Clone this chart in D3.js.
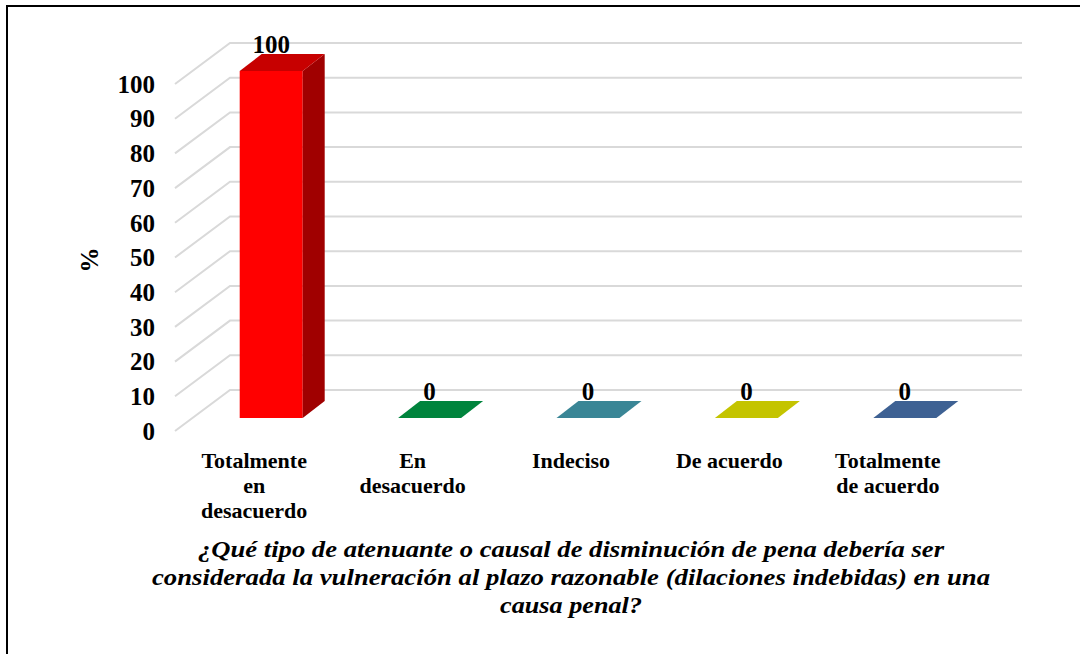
<!DOCTYPE html>
<html>
<head>
<meta charset="utf-8">
<script src="https://cdn.jsdelivr.net/npm/d3@7"></script>
<style>
  body { margin: 0; background: #fff; }
  svg { display: block; }
  text { font-family: "Liberation Serif", "Times New Roman", "DejaVu Serif", serif; font-weight: bold; fill: #000; }
  .tick-label { font-size: 25px; }
  .cat-label { font-size: 22px; }
  .value-label { font-size: 25px; }
  .title { font-style: italic; font-size: 24px; }
</style>
</head>
<body>
<svg id="chart" width="1080" height="654"></svg>
<script>
const categories = ['Totalmente en desacuerdo', 'En desacuerdo', 'Indeciso', 'De acuerdo', 'Totalmente de acuerdo'];
const categoryLines = [['Totalmente', 'en', 'desacuerdo'], ['En', 'desacuerdo'], ['Indeciso'], ['De acuerdo'], ['Totalmente', 'de acuerdo']];
const values = [100, 0, 0, 0, 0];
const barColors = ['#ff0000', '#00843d', '#3a8696', '#c4c400', '#3e6193'];
const yTicks = [0, 10, 20, 30, 40, 50, 60, 70, 80, 90, 100];
const titleLines = [
  '¿Qué tipo de atenuante o causal de disminución de pena debería ser',
  'considerada la vulneración al plazo razonable (dilaciones indebidas) en una',
  'causa penal?',
];
const titleWidths = [746, 838, 142];

const svg = d3.select('#chart');

// frame
svg.append('rect')
  .attr('x', 7).attr('y', 6)
  .attr('width', 1100).attr('height', 700)
  .attr('fill', 'none')
  .attr('stroke', '#000')
  .attr('stroke-width', 2);

// 3d geometry: wall depth and bar depth
const wall = { dx: 55, dy: 41, right: 1022 };
const bar = { shiftX: 17, shiftY: 13, dx: 22, dy: 17, width: 63 };

const x = d3.scaleBand()
  .domain(categories)
  .range([175, 967]);

const y = d3.scaleLinear()
  .domain([0, 100])
  .range([431, 84]);

// back wall gridlines + side diagonals
svg.append('g')
  .selectAll('path')
  .data(yTicks)
  .join('path')
    .attr('d', v => `M175,${y(v)}L${175 + wall.dx},${y(v) - wall.dy}L${wall.right},${y(v) - wall.dy}`)
    .attr('fill', 'none')
    .attr('stroke', '#d9d9d9')
    .attr('stroke-width', 2);

// y tick labels
svg.append('g')
  .selectAll('text')
  .data(yTicks)
  .join('text')
    .attr('class', 'tick-label')
    .attr('x', 155)
    .attr('y', v => y(v))
    .attr('dy', '0.35em')
    .attr('text-anchor', 'end')
    .text(v => v);

svg.append('text')
  .attr('class', 'tick-label')
  .attr('transform', 'translate(98,260) rotate(-90)')
  .attr('text-anchor', 'middle')
  .text('%');

// bars
const barG = svg.append('g')
  .selectAll('g')
  .data(categories.map((c, i) => ({ c, v: values[i], color: barColors[i] })))
  .join('g');

barG.each(function drawBar(d) {
  const g = d3.select(this);
  const x0 = x(d.c) + x.bandwidth() / 2 + bar.shiftX - bar.width / 2;
  const x1 = x0 + bar.width;
  const yb = y(0) - bar.shiftY;
  const yt = y(d.v) - bar.shiftY;
  const h = yb - yt;
  const base = d3.color(d.color);
  if (h > 0) {
    g.append('rect')
      .attr('x', x0).attr('y', yt)
      .attr('width', bar.width).attr('height', h)
      .attr('fill', d.color);
    g.append('path')
      .attr('d', `M${x1},${yt}L${x1 + bar.dx},${yt - bar.dy}L${x1 + bar.dx},${yb - bar.dy}L${x1},${yb}Z`)
      .attr('fill', base.darker(1.3));
    g.append('path')
      .attr('d', `M${x0},${yt}L${x0 + bar.dx},${yt - bar.dy}L${x1 + bar.dx},${yt - bar.dy}L${x1},${yt}Z`)
      .attr('fill', base.darker(0.7));
  } else {
    g.append('path')
      .attr('d', `M${x0},${yt}L${x0 + bar.dx},${yt - bar.dy}L${x1 + bar.dx},${yt - bar.dy}L${x1},${yt}Z`)
      .attr('fill', d.color);
  }
  g.append('text')
    .attr('class', 'value-label')
    .attr('x', (x0 + x1) / 2)
    .attr('y', yt - bar.dy - 1)
    .attr('text-anchor', 'middle')
    .text(d.v);
});

// category labels
svg.append('g')
  .selectAll('text')
  .data(categories.map((c, i) => ({ c, lines: categoryLines[i] })))
  .join('text')
    .attr('class', 'cat-label')
    .attr('text-anchor', 'middle')
    .attr('x', d => x(d.c) + x.bandwidth() / 2)
    .attr('y', 468)
    .selectAll('tspan')
    .data(d => d.lines.map(l => ({ l, cx: x(d.c) + x.bandwidth() / 2 })))
    .join('tspan')
      .attr('x', d => d.cx)
      .attr('dy', (d, i) => (i === 0 ? 0 : 25))
      .text(d => d.l);

// title
svg.append('g')
  .selectAll('text')
  .data(titleLines)
  .join('text')
    .attr('class', 'title')
    .attr('x', 571)
    .attr('y', (d, i) => 557 + i * 28)
    .attr('text-anchor', 'middle')
    .attr('textLength', (d, i) => titleWidths[i])
    .attr('lengthAdjust', 'spacingAndGlyphs')
    .text(d => d);
</script>
</body>
</html>
